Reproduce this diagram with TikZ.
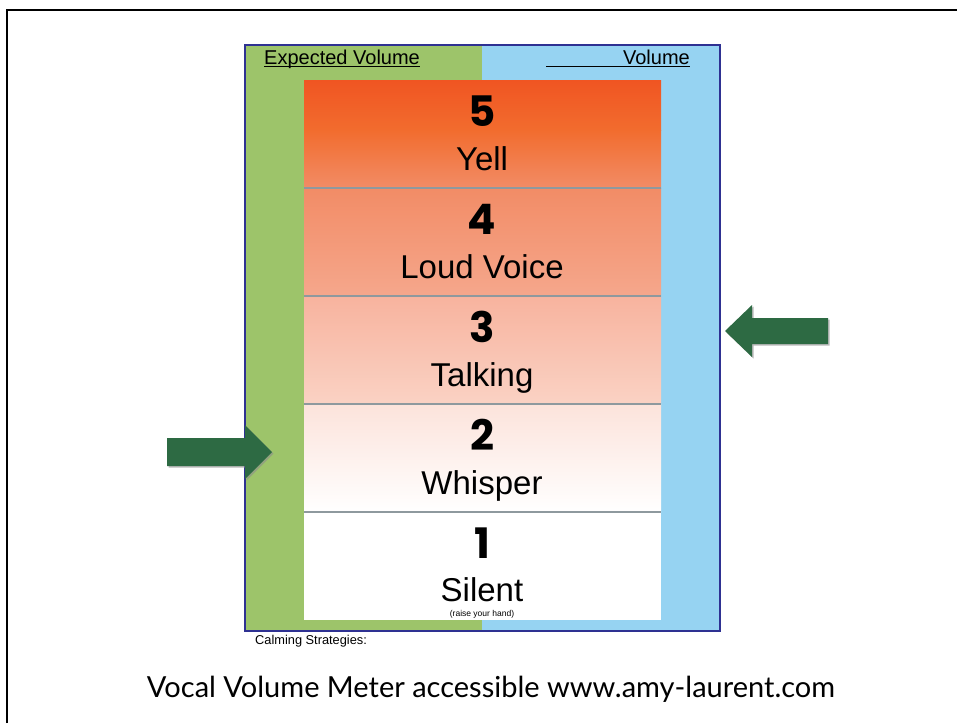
\documentclass[tikz,border=0pt]{standalone}
\usepackage{fontspec}
\setmainfont{Liberation Sans}
\newfontfamily\numfont{Poppins}
\newfontfamily\capfont{Lato}
\usetikzlibrary{shadows}
\definecolor{panelgreen}{HTML}{9DC46A}
\definecolor{panelblue}{HTML}{96D3F2}
\definecolor{navy}{HTML}{2E3192}
\definecolor{sepgray}{HTML}{8E999E}
\definecolor{arrowgreen}{HTML}{2D6A43}
\definecolor{o1}{HTML}{F05522}
\definecolor{o2}{HTML}{F26C2E}
\definecolor{o3}{HTML}{F28C66}
\definecolor{o4}{HTML}{F5A78C}
\definecolor{o5}{HTML}{F8B39E}
\definecolor{o6}{HTML}{FAD2C4}
\definecolor{o7}{HTML}{FCE3DB}
\tikzset{
  num/.style={font=\numfont\bfseries\fontsize{42}{42}\selectfont, inner sep=0},
  word/.style={font=\fontsize{33}{33}\selectfont, inner sep=0, anchor=base},
  sep/.style={sepgray, line width=1.6pt},
  bigarrow/.style={fill=arrowgreen, drop shadow={shadow xshift=1.5pt, shadow yshift=-1.5pt, fill=black!45, opacity=0.6}},
}
\begin{document}
\begin{tikzpicture}[x=1pt,y=-1pt]
\useasboundingbox (0,0) rectangle (957,723);
\fill[white] (0,0) rectangle (957,723);
% outer frame (left and top edges)
\draw[line width=2.2pt] (7,723) -- (7,10) -- (957,10);
% two-colour panel
\fill[panelgreen] (245,45) rectangle (482,631);
\fill[panelblue] (482,45) rectangle (720,631);
\draw[navy, line width=1.6pt] (245,45) rectangle (720,631);
% meter column, shaded from orange to white
\shade[top color=o1, bottom color=o2] (304,80) rectangle (661,130.5);
\shade[top color=o2, bottom color=o3] (304,130) rectangle (661,188);
\shade[top color=o3, bottom color=o4] (304,188) rectangle (661,296);
\shade[top color=o5, bottom color=o6] (304,296) rectangle (661,404);
\shade[top color=o7, bottom color=white] (304,404) rectangle (661,512);
\fill[white] (304,512) rectangle (661,620);
\foreach \y in {188,296,404,512} \draw[sep] (304,\y) -- (661,\y);
% level labels
\node[num]  (n5) at (482,111) {5};
\node[word] (w5) at (482,170) {Yell};
\node[num]  (n4) at (482,219) {4};
\node[word] (w4) at (482,278) {Loud Voice};
\node[num]  (n3) at (482,327) {3};
\node[word] (w3) at (482,386) {Talking};
\node[num]  (n2) at (482,435) {2};
\node[word] (w2) at (482,494) {Whisper};
\node[num]  (n1) at (482,543) {1};
\node[word] (w1) at (482,601) {Silent};
\node[inner sep=0, font=\fontsize{8.5}{8.5}\selectfont] (hint) at (482,614) {(raise your hand)};
% column headings
\node[inner sep=0, anchor=base west, font=\fontsize{20}{20}\selectfont] (ev) at (264,64) {Expected Volume};
\draw[line width=1.4pt] ([yshift=-2.5pt]ev.base west) -- ([yshift=-2.5pt]ev.base east);
\node[inner sep=0, anchor=base east, font=\fontsize{20}{20}\selectfont] (vol) at (690,64) {Volume};
\coordinate (volstart) at (546,66.5);
\draw[line width=1.4pt] (volstart) -- ([yshift=-2.5pt]vol.base east);
% note under the panel
\node[inner sep=0, anchor=base west, font=\fontsize{12.8}{12.8}\selectfont] (calm) at (255,644) {Calming Strategies:};
% arrows
\filldraw[bigarrow, draw=none] (167,438) -- (245,438) -- (245,425) -- (272,452) -- (245,479) -- (245,466) -- (167,466) -- cycle;
\filldraw[bigarrow, draw=none] (828,318) -- (752,318) -- (752,305) -- (725,331) -- (752,357) -- (752,344) -- (828,344) -- cycle;
% caption
\node[inner sep=0, anchor=base, font=\capfont\fontsize{29}{29}\selectfont] (cap) at (491,697) {Vocal Volume Meter accessible www.amy-laurent.com};
\end{tikzpicture}
\end{document}
